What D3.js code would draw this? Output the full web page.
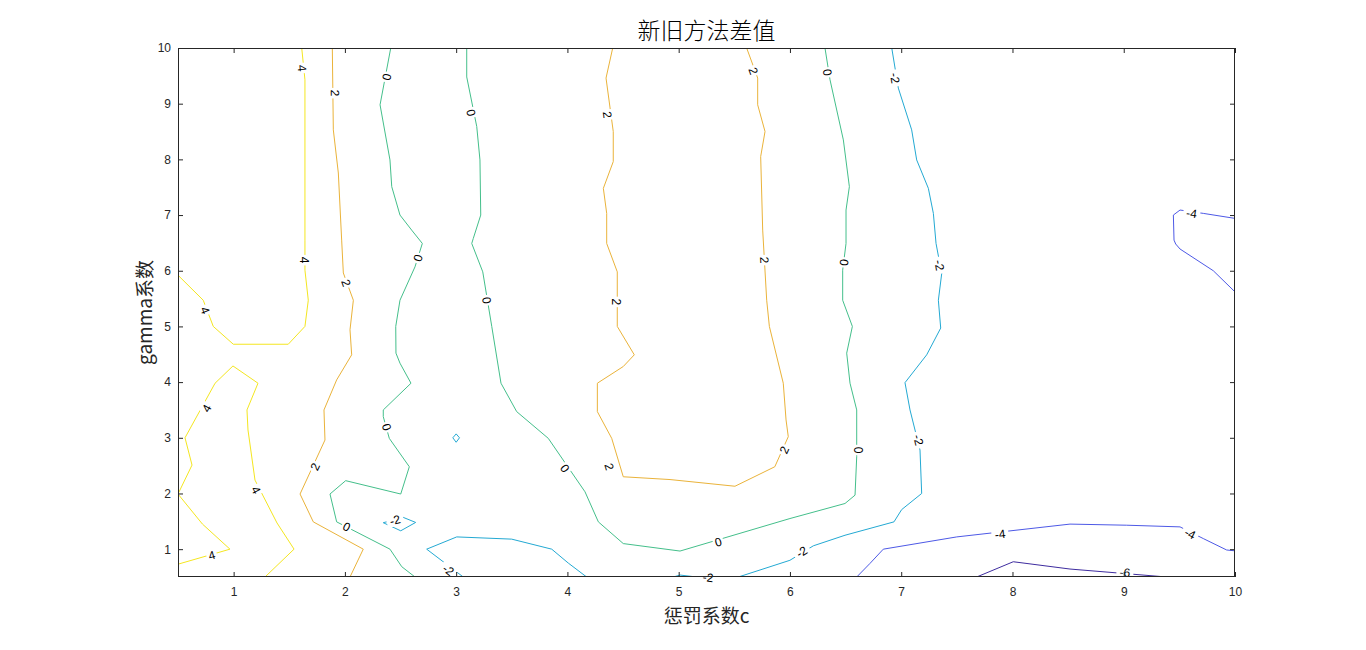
<!DOCTYPE html>
<html><head><meta charset="utf-8">
<script src="https://cdn.jsdelivr.net/npm/d3@7"></script>
<style>body{margin:0;background:#fff}</style>
</head><body>
<svg id="chart" width="1366" height="650"></svg>
<script>
// ---- data ----
const xTicks = [1,2,3,4,5,6,7,8,9,10];
const yTicks = [1,2,3,4,5,6,7,8,9,10];
const levels = [-6,-4,-2,0,2,4];
const levelColors = ["#3e2c9f","#4d59e6","#23a9d3","#44bf8b","#eab33a","#f4e620"];

// contour polylines [c, gamma] per level
const lvl4a = [[1.612,10],[1.641,9.43],[1.641,6.55],[1.641,6.01],[1.671,5.47],[1.641,5.0],[1.491,4.68],[0.997,4.68],[0.817,5.0],[0.727,5.47],[0.5,5.92]];
const lvl4b = [[1.282,0.5],[1.543,1.0],[1.39,1.47],[1.192,2.24],[1.129,3.14],[1.12,3.5],[1.219,3.98],[0.994,4.29],[0.833,3.98],[0.563,3.0],[0.626,2.51],[0.5,1.99],[0.72,1.45],[0.967,1.0],[0.5,0.73]];
const lvl2a = [[1.887,10],[1.896,8.53],[1.941,7.755],[1.971,6.55],[1.986,5.96],[2.076,5.47],[2.046,4.94],[2.061,4.49],[1.926,4.04],[1.812,3.5],[1.821,2.96],[1.597,1.99],[1.716,1.49],[2.165,1.0],[2.046,0.5]];
const lvl2b = [[4.407,10],[4.347,9.46],[4.412,8.5],[4.412,7.96],[4.323,7.48],[4.353,7.03],[4.353,6.49],[4.448,5.98],[4.448,5.0],[4.601,4.49],[4.502,4.28],[4.269,3.98],[4.269,3.47],[4.398,2.99],[4.502,2.3],[4.922,2.25],[5.506,2.13],[5.864,2.48],[5.985,3.02],[5.965,3.32],[5.94,3.98],[5.815,5.0],[5.791,5.47],[5.755,6.73],[5.737,8.05],[5.776,8.5],[5.71,8.98],[5.71,9.46],[5.611,10]];
const lvl0a = [[2.412,10],[2.316,8.98],[2.405,7.99],[2.421,7.51],[2.495,7.0],[2.6,6.73],[2.696,6.49],[2.63,6.07],[2.495,5.47],[2.457,5.0],[2.459,4.52],[2.495,4.34],[2.594,3.98],[2.345,3.5],[2.345,3.38],[2.399,2.99],[2.579,2.48],[2.502,1.99],[2.007,2.23],[1.866,1.99],[1.926,1.49],[2.405,1.0],[2.511,0.685],[2.63,0.5]];
const lvl0b = [[3.095,10],[3.095,9.48],[3.185,8.59],[3.214,7.99],[3.221,7.0],[3.154,6.58],[3.14,6.49],[3.239,5.98],[3.32,5.0],[3.403,3.98],[3.544,3.47],[3.828,2.99],[4.158,2.03],[4.278,1.49],[4.502,1.1],[5.012,0.966],[6.0,1.55],[6.495,1.82],[6.585,1.97],[6.6,2.66],[6.6,3.5],[6.54,3.98],[6.51,4.52],[6.561,5.0],[6.474,5.47],[6.474,6.01],[6.504,6.49],[6.504,7.09],[6.534,7.51],[6.48,8.35],[6.36,9.43],[6.315,10]];
const lvlm2a = [[6.915,10],[6.974,9.28],[7.094,8.53],[7.139,7.99],[7.244,7.48],[7.289,7.03],[7.313,6.49],[7.364,5.95],[7.334,5.47],[7.355,4.97],[7.229,4.49],[7.034,3.99],[7.079,3.5],[7.169,2.78],[7.184,2.0],[7.004,1.71],[6.935,1.49],[6.495,1.25],[6.21,1.06],[6.0,0.8],[5.536,0.5]];
const lvlm2b = [[3.064,0.5],[2.735,1.0],[3.005,1.22],[3.499,1.18],[3.859,1.0],[4.008,0.75],[4.173,0.5]];
const lvlm2c = [[2.345,1.475],[2.525,1.57],[2.636,1.48],[2.502,1.33],[2.345,1.475]];
const lvlm2d = [[2.97,3.0],[3.0,3.07],[3.03,3.0],[3.0,2.92],[2.97,3.0]];
const lvlm2e = [[4.952,0.5],[5.012,0.535],[5.162,0.5]];
const lvlm4a = [[6.6,0.5],[6.72,0.745],[6.839,1.0],[7.499,1.22],[8.517,1.45],[9.027,1.43],[9.506,1.4],[9.715,1.19],[9.925,0.985],[10,0.97]];
const lvlm4b = [[10,6.94],[9.715,7.03],[9.506,7.09],[9.446,7.0],[9.452,6.55],[9.467,6.48],[9.506,6.39],[9.805,6.0],[10,5.62]];
const lvlm6a = [[7.678,0.5],[8.007,0.774],[8.517,0.643],[9.386,0.5]];

// contour label positions [c, gamma, level]
const labelPts = [
  [1.614,9.64,4],[1.632,6.19,4],[0.743,5.29,4],[0.758,3.53,4],[1.201,2.06,4],[0.803,0.89,4],
  [1.911,9.19,2],[2.01,5.78,2],[1.731,2.48,2],[4.359,8.80,2],[4.434,5.44,2],[4.376,2.48,2],[5.671,9.59,2],[5.770,6.19,2],[5.949,2.78,2],
  [2.376,9.48,0],[2.657,6.23,0],[2.376,3.19,0],[2.016,1.40,0],[3.133,8.84,0],[3.275,5.47,0],[3.978,2.45,0],[5.356,1.13,0],[6.609,2.78,0],[6.486,6.15,0],[6.336,9.56,0],
  [2.450,1.52,-2],[2.929,0.625,-2],[5.264,0.49,-2],[6.106,0.95,-2],[6.944,9.46,-2],[7.342,6.10,-2],[7.154,2.96,-2],
  [7.888,1.27,-4],[9.596,1.28,-4],[9.611,7.03,-4],
  [9.011,0.58,-6]
];

const titleText = "新旧方法差值";
const xLabelText = "惩罚系数c";
const yLabelText = "gamma系数";

const contourLines = [
  {level:4, pts:lvl4a},{level:4, pts:lvl4b},
  {level:2, pts:lvl2a},{level:2, pts:lvl2b},
  {level:0, pts:lvl0a},{level:0, pts:lvl0b},
  {level:-2, pts:lvlm2a},{level:-2, pts:lvlm2b},{level:-2, pts:lvlm2c},{level:-2, pts:lvlm2d},{level:-2, pts:lvlm2e},
  {level:-4, pts:lvlm4a},{level:-4, pts:lvlm4b},
  {level:-6, pts:lvlm6a}
];

// ---- drawing ----
const svg = d3.select("#chart");
svg.append("rect").attr("width",1366).attr("height",650).attr("fill","#fff");
const L=178, R=1235, T=48, B=577;
const x = d3.scaleLinear().domain([0.5,10]).range([L,R]);
const y = d3.scaleLinear().domain([0.5,10]).range([B,T]);
const color = d3.scaleOrdinal().domain(levels).range(levelColors);
const axisColor = "#262626";
const tickFont = "'Liberation Sans', Arial, Helvetica, sans-serif";

const plot = svg.append("g");
plot.append("defs").append("clipPath").attr("id","clip")
  .append("rect").attr("x",L).attr("y",T).attr("width",R-L).attr("height",B-T);
const lineGen = d3.line().x(d=>x(d[0])).y(d=>y(d[1]));
const lines = plot.append("g").attr("clip-path","url(#clip)");
lines.selectAll("path").data(contourLines).join("path")
  .attr("d", d=>lineGen(d.pts))
  .attr("fill","none")
  .attr("stroke", d=>color(d.level))
  .attr("stroke-width",1)
  .attr("stroke-linejoin","round");

// labels
function labelAngle(px,py,level){
  let best=1e9, ang=0;
  contourLines.filter(c=>c.level===level).forEach(c=>{
    for(let i=0;i<c.pts.length-1;i++){
      const x1=x(c.pts[i][0]), y1=y(c.pts[i][1]), x2=x(c.pts[i+1][0]), y2=y(c.pts[i+1][1]);
      const dx=x2-x1, dy=y2-y1, l2=dx*dx+dy*dy||1;
      let t=((px-x1)*dx+(py-y1)*dy)/l2; t=Math.max(0,Math.min(1,t));
      const qx=x1+t*dx, qy=y1+t*dy, d=(px-qx)**2+(py-qy)**2;
      if(d<best){best=d; ang=Math.atan2(dy,dx)*180/Math.PI;}
    }
  });
  if(ang>90) ang-=180;
  if(ang<=-90) ang+=180;
  return ang;
}
const labs = plot.append("g");
labelPts.forEach(p=>{
  const px=x(p[0]), py=y(p[1]);
  const a=labelAngle(px,py,p[2]);
  const g=labs.append("g").attr("transform",`translate(${px},${py}) rotate(${a})`);
  const txt=String(p[2]);
  const w = txt.length*6.5+4;
  g.append("rect").attr("x",-w/2).attr("y",-6).attr("width",w).attr("height",12).attr("fill","#fff");
  g.append("text").attr("text-anchor","middle").attr("dy","0.35em")
    .attr("font-family",tickFont).attr("font-size",12).attr("fill","#000").text(txt);
});

// axes
function styleAxis(g){
  g.select(".domain").remove();
  g.selectAll(".tick line").attr("stroke",axisColor);
  g.selectAll(".tick text").attr("fill",axisColor).attr("font-family",tickFont).attr("font-size",12);
}
svg.append("g").attr("transform",`translate(0,${B})`)
  .call(d3.axisBottom(x).tickValues(xTicks).tickSize(-5).tickPadding(10).tickFormat(d3.format("d"))).call(styleAxis);
svg.append("g").attr("transform",`translate(0,${T})`)
  .call(d3.axisTop(x).tickValues(xTicks).tickSize(-5).tickFormat("")).call(styleAxis);
svg.append("g").attr("transform",`translate(${L},0)`)
  .call(d3.axisLeft(y).tickValues(yTicks).tickSize(-5).tickPadding(7).tickFormat(d3.format("d"))).call(styleAxis);
svg.append("g").attr("transform",`translate(${R},0)`)
  .call(d3.axisRight(y).tickValues(yTicks).tickSize(-5).tickFormat("")).call(styleAxis);
svg.append("rect").attr("x",L+0.5).attr("y",T+0.5).attr("width",R-L-1).attr("height",B-T-1)
  .attr("fill","none").attr("stroke",axisColor).attr("stroke-width",1);

// title & labels
const cjk = "'Noto Sans CJK SC', 'Liberation Sans', Arial, sans-serif";
svg.append("text").attr("x",(L+R)/2).attr("y",39).attr("text-anchor","middle")
  .attr("font-family",cjk).attr("font-size",23).attr("font-weight",300).attr("fill","#000").text(titleText);
svg.append("text").attr("x",(L+R)/2).attr("y",623).attr("text-anchor","middle")
  .attr("font-family",cjk).attr("font-size",19).attr("fill",axisColor).text(xLabelText);
svg.append("text").attr("transform",`translate(152,${(T+B)/2}) rotate(-90)`).attr("text-anchor","middle")
  .attr("font-family",cjk).attr("font-size",19).attr("fill",axisColor).text(yLabelText);
</script>
</body></html>
